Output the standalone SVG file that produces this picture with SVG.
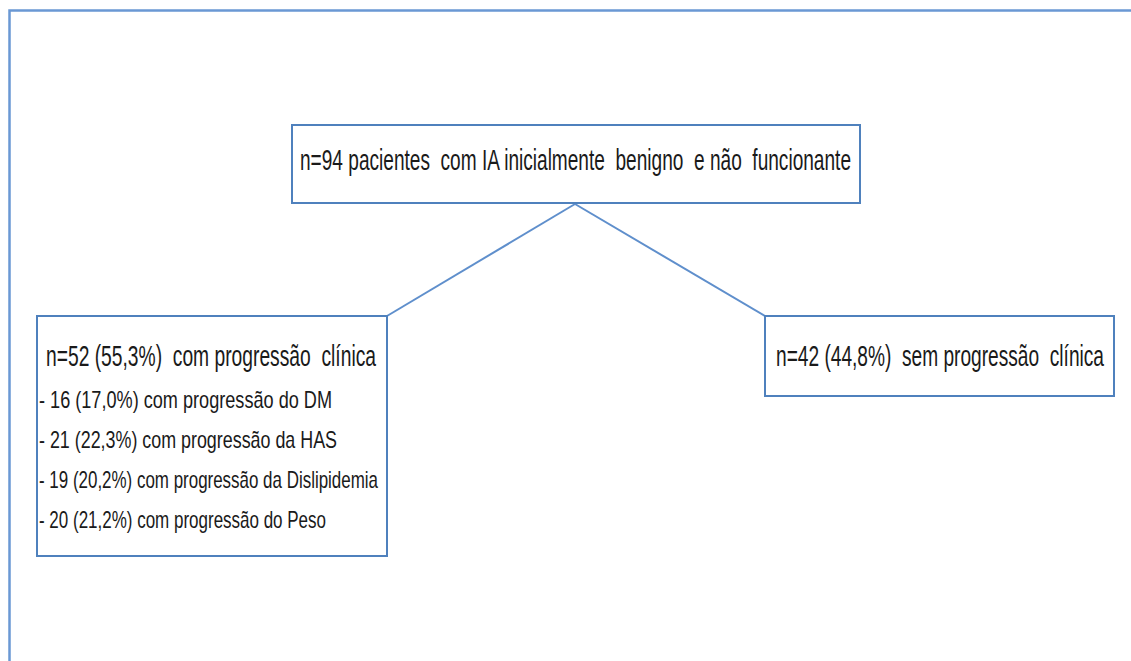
<svg xmlns="http://www.w3.org/2000/svg" width="1131" height="661" viewBox="0 0 1131 661">
  <style>
    .frame { fill: none; stroke: #6a98d4; stroke-width: 2.5; }
    .box { fill: #ffffff; stroke: #4f81bd; stroke-width: 2; }
    .conn { fill: none; stroke: #5f8fcc; stroke-width: 2; }
    .t { font-family: "Liberation Sans", Arial, sans-serif; fill: #1a1a1a; white-space: pre; }
    .big { font-size: 30px; }
    .small { font-size: 24px; }
  </style>
  <rect width="1131" height="661" fill="#ffffff"/>
  <path class="frame" d="M9.5,663 V10.5 H1133"/>
  <g id="connectors">
    <line class="conn" x1="575" y1="204" x2="387" y2="316"/>
    <line class="conn" x1="575" y1="204" x2="765" y2="316"/>
  </g>
  <g id="node-top">
    <rect class="box" x="292" y="125" width="568" height="78"/>
    <text class="t big" x="300" y="170" textLength="551" lengthAdjust="spacingAndGlyphs">n=94 pacientes  com IA inicialmente  benigno  e não  funcionante</text>
  </g>
  <g id="node-left">
    <rect class="box" x="37" y="316" width="350" height="240"/>
    <text class="t big" x="46" y="366" textLength="330" lengthAdjust="spacingAndGlyphs">n=52 (55,3%)  com progressão  clínica</text>
    <text class="t small" x="39" y="408" textLength="293" lengthAdjust="spacingAndGlyphs">- 16 (17,0%) com progressão do DM</text>
    <text class="t small" x="39" y="448" textLength="298" lengthAdjust="spacingAndGlyphs">- 21 (22,3%) com progressão da HAS</text>
    <text class="t small" x="39" y="488" textLength="339" lengthAdjust="spacingAndGlyphs">- 19 (20,2%) com progressão da Dislipidemia</text>
    <text class="t small" x="39" y="528" textLength="287" lengthAdjust="spacingAndGlyphs">- 20 (21,2%) com progressão do Peso</text>
  </g>
  <g id="node-right">
    <rect class="box" x="765" y="316" width="349" height="80"/>
    <text class="t big" x="776" y="366" textLength="328" lengthAdjust="spacingAndGlyphs">n=42 (44,8%)  sem progressão  clínica</text>
  </g>
</svg>
